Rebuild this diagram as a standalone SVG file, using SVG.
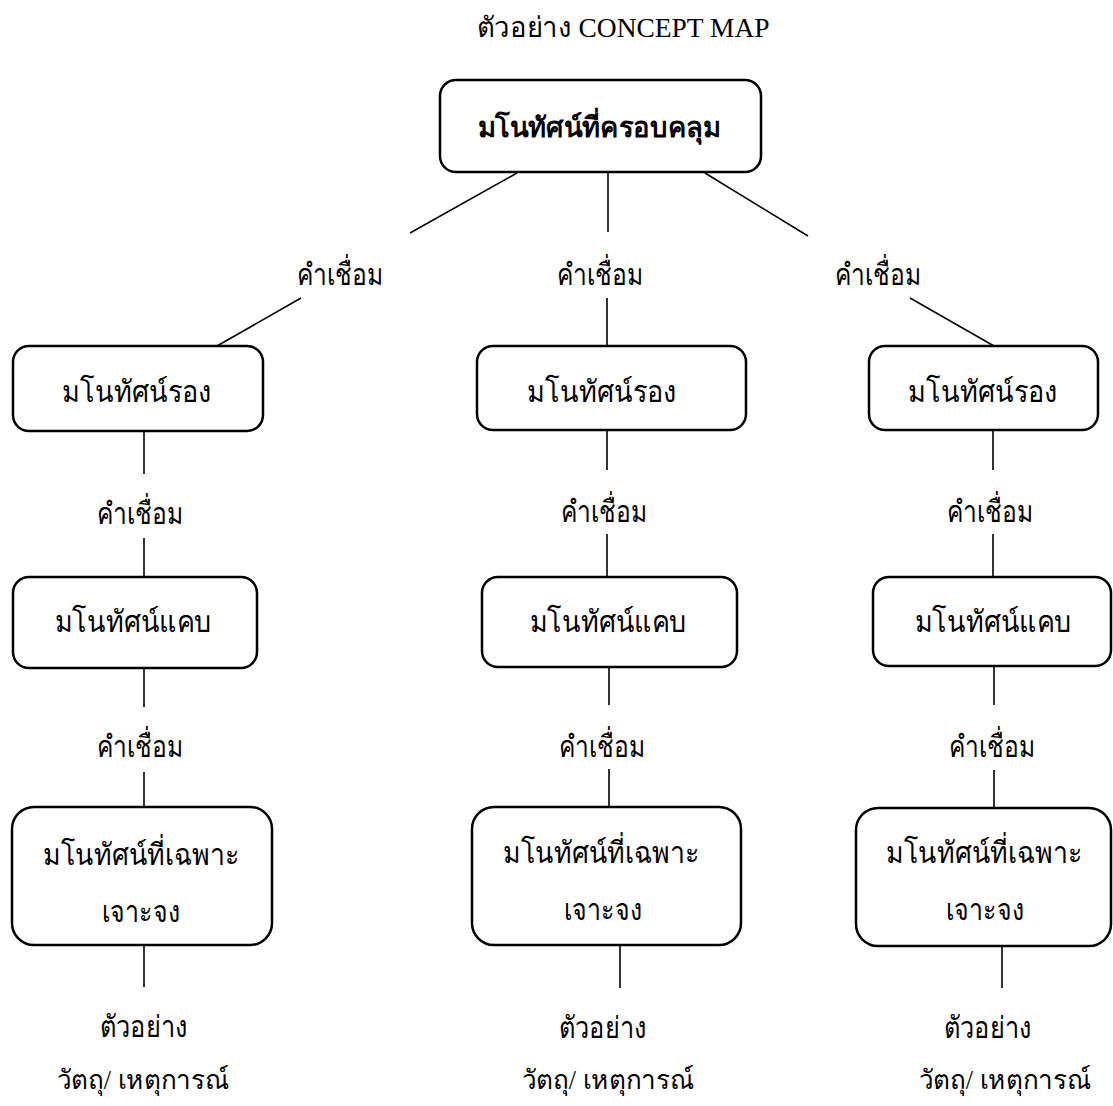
<svg xmlns="http://www.w3.org/2000/svg" width="1113" height="1106" viewBox="0 0 1113 1106">
<style>
.box{fill:#fff;stroke:#000;stroke-width:2.5}
.ln{stroke:#000;stroke-width:1.6;fill:none}
text{font-family:"Liberation Serif","DejaVu Serif",serif;font-size:30px;fill:#000;text-anchor:middle}
.t{font-size:28px}
.b{font-weight:bold;font-size:28px}
.s{font-size:27px}
</style>
<rect width="1113" height="1106" fill="#fff"/>
<text class="t" x="623" y="37" textLength="293" lengthAdjust="spacingAndGlyphs">ตัวอย่าง CONCEPT MAP</text>
<g id="connectors">
<line class="ln" x1="517" y1="173" x2="410" y2="233"/>
<line class="ln" x1="608" y1="172" x2="608" y2="232"/>
<line class="ln" x1="705" y1="173" x2="808" y2="236"/>
<line class="ln" x1="301" y1="298" x2="217" y2="346"/>
<line class="ln" x1="607" y1="298" x2="607" y2="346"/>
<line class="ln" x1="910" y1="298" x2="994" y2="346"/>
<line class="ln" x1="144" y1="432" x2="144" y2="474"/>
<line class="ln" x1="144" y1="538" x2="144" y2="577"/>
<line class="ln" x1="607" y1="430" x2="607" y2="470"/>
<line class="ln" x1="607" y1="534" x2="607" y2="578"/>
<line class="ln" x1="993" y1="430" x2="993" y2="470"/>
<line class="ln" x1="993" y1="534" x2="993" y2="577"/>
<line class="ln" x1="144" y1="669" x2="144" y2="707"/>
<line class="ln" x1="144" y1="772" x2="144" y2="807"/>
<line class="ln" x1="609" y1="668" x2="609" y2="705"/>
<line class="ln" x1="609" y1="769" x2="609" y2="807"/>
<line class="ln" x1="994" y1="667" x2="994" y2="705"/>
<line class="ln" x1="994" y1="770" x2="994" y2="808"/>
<line class="ln" x1="144" y1="946" x2="144" y2="987"/>
<line class="ln" x1="620" y1="946" x2="620" y2="988"/>
<line class="ln" x1="1002" y1="947" x2="1002" y2="988"/>
<text x="340" y="285" textLength="86" lengthAdjust="spacingAndGlyphs">คำเชื่อม</text>
<text x="600" y="285" textLength="86" lengthAdjust="spacingAndGlyphs">คำเชื่อม</text>
<text x="878" y="285" textLength="86" lengthAdjust="spacingAndGlyphs">คำเชื่อม</text>
<text x="140" y="524" textLength="86" lengthAdjust="spacingAndGlyphs">คำเชื่อม</text>
<text x="604" y="522" textLength="86" lengthAdjust="spacingAndGlyphs">คำเชื่อม</text>
<text x="990" y="522" textLength="86" lengthAdjust="spacingAndGlyphs">คำเชื่อม</text>
<text x="140" y="757" textLength="86" lengthAdjust="spacingAndGlyphs">คำเชื่อม</text>
<text x="602" y="757" textLength="86" lengthAdjust="spacingAndGlyphs">คำเชื่อม</text>
<text x="992" y="757" textLength="86" lengthAdjust="spacingAndGlyphs">คำเชื่อม</text>
</g>
<g id="top">
<rect class="box" x="440" y="80" width="321" height="92" rx="16"/>
<text class="b" x="599" y="137" textLength="243" lengthAdjust="spacingAndGlyphs">มโนทัศน์ที่ครอบคลุม</text>
</g>
<g id="sec-left">
<rect class="box" x="13" y="346" width="250" height="85" rx="16"/>
<text x="137" y="402" textLength="150" lengthAdjust="spacingAndGlyphs">มโนทัศน์รอง</text>
</g>
<g id="sec-mid">
<rect class="box" x="477" y="346" width="269" height="84" rx="16"/>
<text x="602" y="402" textLength="150" lengthAdjust="spacingAndGlyphs">มโนทัศน์รอง</text>
</g>
<g id="sec-right">
<rect class="box" x="869" y="346" width="229" height="84" rx="16"/>
<text x="983" y="402" textLength="150" lengthAdjust="spacingAndGlyphs">มโนทัศน์รอง</text>
</g>
<g id="nar-left">
<rect class="box" x="13" y="577" width="244" height="91" rx="16"/>
<text x="133" y="632" textLength="157" lengthAdjust="spacingAndGlyphs">มโนทัศน์แคบ</text>
</g>
<g id="nar-mid">
<rect class="box" x="482" y="577" width="255" height="90" rx="16"/>
<text x="608" y="632" textLength="157" lengthAdjust="spacingAndGlyphs">มโนทัศน์แคบ</text>
</g>
<g id="nar-right">
<rect class="box" x="873" y="577" width="238" height="89" rx="16"/>
<text x="993" y="632" textLength="157" lengthAdjust="spacingAndGlyphs">มโนทัศน์แคบ</text>
</g>
<g id="spec-left">
<rect class="box" x="12" y="807" width="260" height="138" rx="22"/>
<text x="141" y="865" textLength="196" lengthAdjust="spacingAndGlyphs">มโนทัศน์ที่เฉพาะ</text>
<text x="141" y="922" textLength="78" lengthAdjust="spacingAndGlyphs">เจาะจง</text>
</g>
<g id="spec-mid">
<rect class="box" x="472" y="807" width="269" height="138" rx="22"/>
<text x="601" y="863" textLength="196" lengthAdjust="spacingAndGlyphs">มโนทัศน์ที่เฉพาะ</text>
<text x="603" y="920" textLength="78" lengthAdjust="spacingAndGlyphs">เจาะจง</text>
</g>
<g id="spec-right">
<rect class="box" x="856" y="808" width="255" height="138" rx="22"/>
<text x="984" y="863" textLength="196" lengthAdjust="spacingAndGlyphs">มโนทัศน์ที่เฉพาะ</text>
<text x="985" y="920" textLength="78" lengthAdjust="spacingAndGlyphs">เจาะจง</text>
</g>
<g id="ex-left">
<text x="144" y="1037" textLength="88" lengthAdjust="spacingAndGlyphs">ตัวอย่าง</text>
<text class="s" x="143" y="1089" textLength="173" lengthAdjust="spacingAndGlyphs">วัตถุ/ เหตุการณ์</text>
</g>
<g id="ex-mid">
<text x="603" y="1038" textLength="88" lengthAdjust="spacingAndGlyphs">ตัวอย่าง</text>
<text class="s" x="608" y="1089" textLength="173" lengthAdjust="spacingAndGlyphs">วัตถุ/ เหตุการณ์</text>
</g>
<g id="ex-right">
<text x="988" y="1038" textLength="88" lengthAdjust="spacingAndGlyphs">ตัวอย่าง</text>
<text class="s" x="1005" y="1089" textLength="173" lengthAdjust="spacingAndGlyphs">วัตถุ/ เหตุการณ์</text>
</g>
</svg>
